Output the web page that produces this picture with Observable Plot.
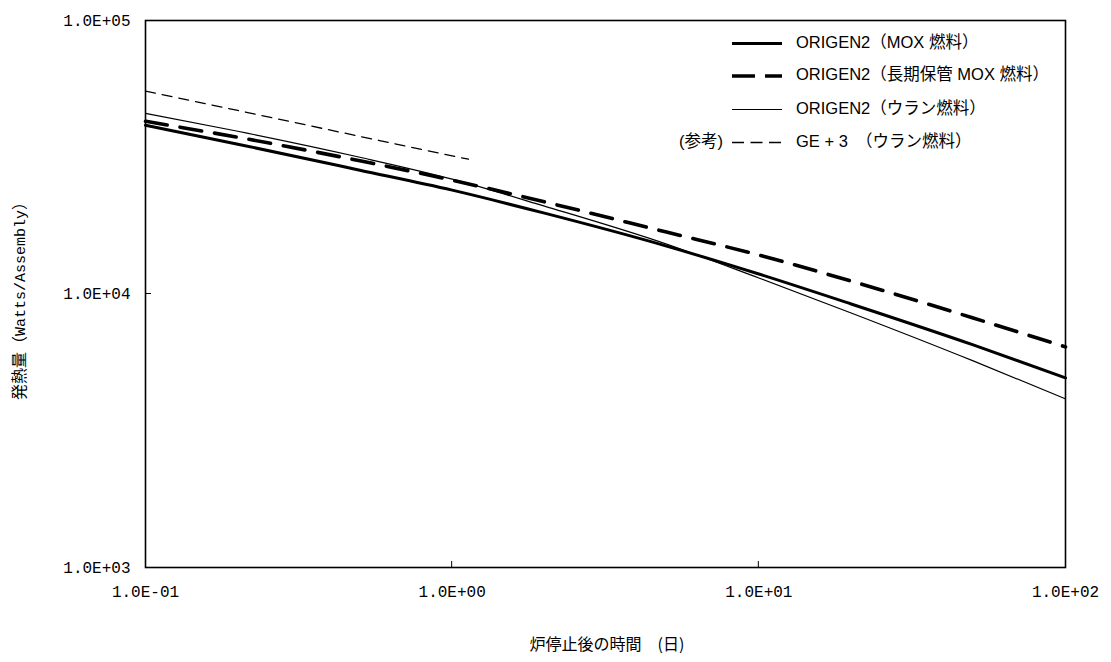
<!DOCTYPE html>
<html>
<head>
<meta charset="utf-8">
<script src="https://cdn.jsdelivr.net/npm/d3@7"></script>
<script src="https://cdn.jsdelivr.net/npm/@observablehq/plot@0.6"></script>
<style>
  body { margin: 0; background: #fff; }
  #chart { width: 1111px; height: 662px; }
</style>
</head>
<body>
<div id="chart"></div>
<script>
// Decay heat after reactor shutdown (days) — log-log
const days = [0.1, 0.2, 0.5, 1, 2, 5, 10, 20, 50, 100];
const moxHeat       = [41400, 35300, 28350, 23970, 19750, 14970, 11830, 9195, 6515, 4935];
const storedMoxHeat = [42800, 37400, 30700, 26070, 21720, 16840, 13880, 11150, 8170, 6407];
const uraniumHeat   = [45780, 39350, 31620, 26290, 20950, 15220, 11440, 8525, 5695, 4138];
const geDays = [0.1, 0.2, 0.5, 1, 1.13];
const geHeat = [55200, 46900, 37700, 32000, 31100];

const xTicks = [0.1, 1, 10, 100];
const xTickLabels = ["1.0E-01", "1.0E+00", "1.0E+01", "1.0E+02"];
const yTicks = [1000, 10000, 100000];
const yTickLabels = ["1.0E+03", "1.0E+04", "1.0E+05"];

const seriesNames = [
  "ORIGEN2（MOX 燃料）",
  "ORIGEN2（長期保管 MOX 燃料）",
  "ORIGEN2（ウラン燃料）",
  "GE + 3　（ウラン燃料）"
];

const toRows = (xs, ys, name) => xs.map((d, i) => ({day: d, heat: ys[i], name}));
const mox = toRows(days, moxHeat, seriesNames[0]);
const stored = toRows(days, storedMoxHeat, seriesNames[1]);
const uranium = toRows(days, uraniumHeat, seriesNames[2]);
const ge = toRows(geDays, geHeat, seriesNames[3]);

const latin = "'Liberation Sans', Arial, 'Noto Sans CJK JP', sans-serif";
const mono = "'Liberation Mono', 'DejaVu Sans Mono', monospace";
const cjk = "'Noto Sans CJK JP', sans-serif";

const styles = [
  {strokeWidth: 3, dash: null, key: null},
  {strokeWidth: 3.6, dash: "22 13", key: "23 10"},
  {strokeWidth: 1.2, dash: null, key: null},
  {strokeWidth: 1.3, dash: "10 7", key: "12 6.5"}
];

const fmt = (ticks, labels) => d => labels[ticks.indexOf(d)] ?? "";

const chart = Plot.plot({
  width: 1111,
  height: 662,
  marginLeft: 145,
  marginRight: 46,
  marginTop: 20,
  marginBottom: 95,
  style: {fontFamily: mono, fontSize: "16px", background: "#fff", color: "#000"},
  x: {type: "log", domain: [0.1, 100]},
  y: {type: "log", domain: [1000, 100000]},
  marks: [
    Plot.axisX(xTicks, {tickSize: 0, tickPadding: 18, tickFormat: fmt(xTicks, xTickLabels), fontSize: 16, label: null}),
    Plot.axisY(yTicks, {tickSize: 0, tickPadding: 15, tickFormat: fmt(yTicks, yTickLabels), fontSize: 16, label: null}),
    Plot.line(ge, {x: "day", y: "heat", stroke: "#000", strokeWidth: styles[3].strokeWidth, strokeDasharray: styles[3].dash}),
    Plot.line(uranium, {x: "day", y: "heat", stroke: "#000", strokeWidth: styles[2].strokeWidth, curve: "monotone-x"}),
    Plot.line(stored, {x: "day", y: "heat", stroke: "#000", strokeWidth: styles[1].strokeWidth, strokeDasharray: styles[1].dash, curve: "monotone-x"}),
    Plot.line(mox, {x: "day", y: "heat", stroke: "#000", strokeWidth: styles[0].strokeWidth, curve: "monotone-x"}),
    Plot.frame({stroke: "#000", strokeWidth: 1.6})
  ]
});

document.getElementById("chart").appendChild(chart);

const svg = d3.select(chart);
const sx = chart.scale("x");
const sy = chart.scale("y");
const [yBottom] = sy.range;
const [xLeft] = sx.range;

// Inward tick marks at the inner decades
const ticks = svg.append("g").attr("stroke", "#000").attr("stroke-width", 1);
xTicks.slice(1, -1).forEach(v => {
  const x = sx.apply(v);
  ticks.append("line").attr("x1", x).attr("x2", x).attr("y1", yBottom).attr("y2", yBottom - 6);
});
yTicks.slice(1, -1).forEach(v => {
  const y = sy.apply(v);
  ticks.append("line").attr("x1", xLeft).attr("x2", xLeft + 6).attr("y1", y).attr("y2", y);
});

// Axis titles
const yTitle = svg.append("text")
  .attr("transform", "translate(21,297) rotate(-90)")
  .attr("text-anchor", "middle")
  .attr("dominant-baseline", "middle")
  .attr("font-size", 16)
  .attr("font-family", cjk)
  .attr("fill", "#000");
yTitle.append("tspan").text("発熱量（");
yTitle.append("tspan").attr("font-family", mono).attr("font-size", 15).text("Watts/Assembly");
yTitle.append("tspan").text("）");

svg.append("text")
  .attr("x", 607)
  .attr("y", 646)
  .attr("text-anchor", "middle")
  .attr("dominant-baseline", "middle")
  .attr("font-size", 16)
  .attr("font-family", cjk)
  .attr("fill", "#000")
  .text("炉停止後の時間　(日)");

// Legend, inside the upper-right of the frame
const legend = svg.append("g")
  .attr("font-family", latin)
  .attr("font-size", 16.5)
  .attr("fill", "#000")
  .attr("text-anchor", "start");

const rowY = [43.5, 76, 109.5, 142.5];
seriesNames.forEach((name, i) => {
  const y = rowY[i];
  legend.append("line")
    .attr("x1", 732).attr("x2", 782)
    .attr("y1", y).attr("y2", y)
    .attr("stroke", "#000")
    .attr("stroke-width", styles[i].strokeWidth)
    .attr("stroke-dasharray", styles[i].key);
  legend.append("text")
    .attr("x", 796).attr("y", y)
    .attr("text-anchor", "start")
    .attr("dominant-baseline", "middle")
    .text(name);
});

legend.append("text")
  .attr("x", 723).attr("y", rowY[3])
  .attr("text-anchor", "end")
  .attr("dominant-baseline", "middle")
  .text("(参考)");
</script>
</body>
</html>
